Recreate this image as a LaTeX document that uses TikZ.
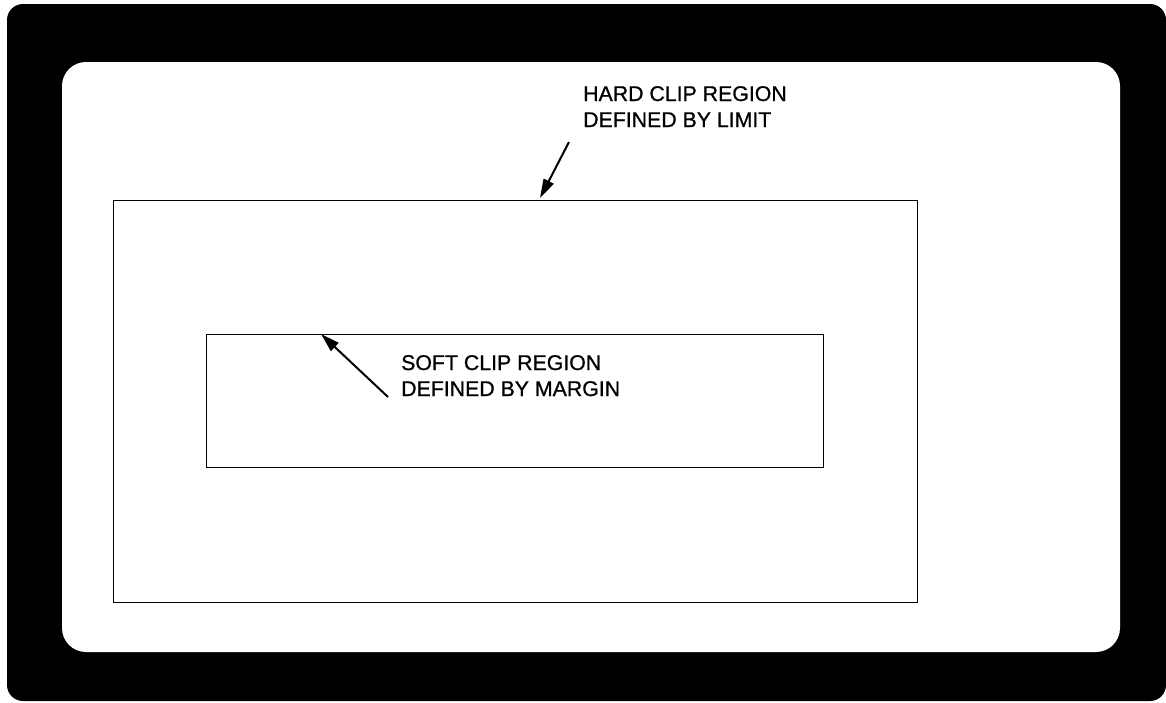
\documentclass[tikz,border=0pt]{standalone}
\usepackage{fontspec}
\setmainfont{Liberation Sans}[FakeBold=0.8]
\usetikzlibrary{arrows.meta}
\tikzset{
  frame/.style={draw=black, line width=1.3pt},
  lbl/.style={anchor=base west, align=left, inner sep=0pt, font=\fontsize{21.3}{26}\selectfont},
  pointer/.style={line width=2pt, -{Triangle[length=19pt, width=11pt]}}
}
\begin{document}
\begin{tikzpicture}[x=1pt, y=-1pt]
\useasboundingbox (0,0) rectangle (1166,702);
\fill[white] (0,0) rectangle (1166,702);
\fill[black, rounded corners=16pt] (7,4) rectangle (1166,701);
\fill[white, rounded corners=24pt] (62,62) rectangle (1120,652);
\node[frame, minimum width=804pt, minimum height=402pt, inner sep=0pt, anchor=north west] (hard) at (113,200) {};
\node[frame, minimum width=617pt, minimum height=133pt, inner sep=0pt, anchor=north west] (soft) at (206,334) {};
\node[lbl] (hardlbl) at (583,127) {HARD CLIP REGION\\DEFINED BY LIMIT};
\node[lbl] (softlbl) at (401,396) {SOFT CLIP REGION\\DEFINED BY MARGIN};
\coordinate (h0) at (569,142);
\coordinate (h1) at (540,198);
\coordinate (s0) at (388,397);
\coordinate (s1) at (321,334);
\draw[pointer] (h0) -- (h1);
\draw[pointer] (s0) -- (s1);
\end{tikzpicture}
\end{document}
